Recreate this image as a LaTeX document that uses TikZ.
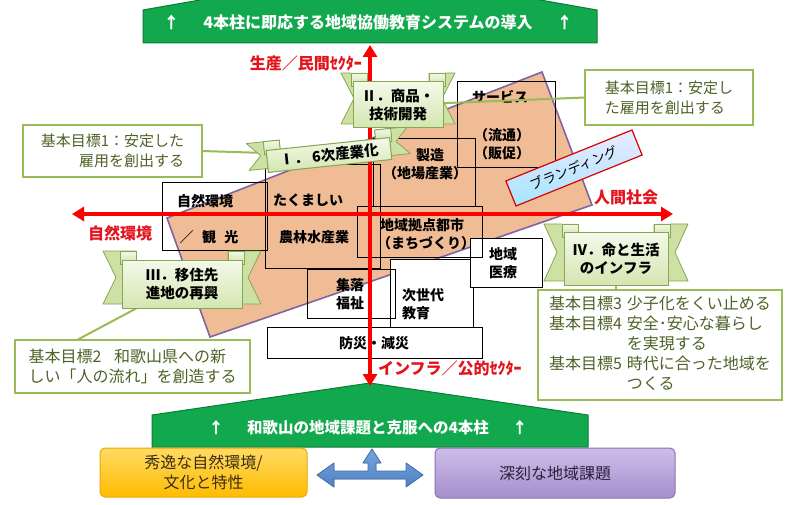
\documentclass[tikz,border=0pt]{standalone}
\usepackage{fontspec}
\setmainfont{Noto Sans CJK JP}
\usetikzlibrary{arrows.meta,calc}
\definecolor{orng}{RGB}{240,188,150}
\definecolor{purp}{RGB}{128,100,162}
\definecolor{axred}{RGB}{250,0,0}
\definecolor{lblred}{RGB}{228,20,30}
\definecolor{cgreen}{RGB}{155,187,89}
\definecolor{olivet}{RGB}{79,98,40}
\definecolor{ribtailc}{RGB}{205,225,165}
\definecolor{ribtop}{RGB}{244,249,233}
\definecolor{ribbot}{RGB}{212,230,178}
\definecolor{ribline}{RGB}{135,168,80}
\definecolor{bgreen}{RGB}{18,168,78}
\definecolor{bgreenline}{RGB}{10,125,55}
\definecolor{blueA}{RGB}{120,165,220}
\definecolor{blueB}{RGB}{80,130,195}
\definecolor{blueline}{RGB}{65,110,175}
\tikzset{
  frame/.style={draw=black, line width=1pt, inner sep=0pt, outer sep=0pt},
  btxt/.style={font=\fontsize{14}{16}\selectfont\bfseries, align=center, inner sep=0pt},
  callout/.style={draw=cgreen, line width=2.5pt, fill=white, inner sep=0pt, outer sep=0pt},
  ctxt/.style={text=olivet, font=\fontsize{15}{20}\selectfont},
  ctxtb/.style={text=olivet, font=\fontsize{16}{20}\selectfont},
  axlbl/.style={text=lblred, font=\fontsize{16}{18}\selectfont\bfseries, inner sep=0pt},
  axis/.style={draw=axred, line width=4pt, {Triangle[length=12pt,width=14pt]}-{Triangle[length=12pt,width=14pt]}},
  conn/.style={draw=cgreen, line width=2pt},
  ribtail/.style={fill=ribtailc, draw=ribline, line width=0.8pt, line join=round},
  ribcurl/.style={top color=ribtop, bottom color=ribtailc, draw=ribline, line width=0.8pt},
  ribbody/.style={top color=ribtop, bottom color=ribbot, draw=ribline, line width=1pt},
  rtxt/.style={font=\fontsize{14.5}{18}\selectfont\bfseries, align=center, inner sep=0pt},
  bantxt/.style={text=white, font=\fontsize{16}{18}\selectfont\bfseries, inner sep=0pt},
}
\newcommand{\boxnode}[6]{%
  \node[frame, #6, minimum width={(#4-#2)*1pt}, minimum height={(#5-#3)*1pt}] (#1) at ({(#2+#4)/2},{(#3+#5)/2}) {};}
\newcommand{\ribbonshape}[6]{%
  \begin{scope}[shift={(#1,#2)},rotate=#3]
    \pgfmathsetmacro{\rbW}{#4}\pgfmathsetmacro{\rbH}{#5}\pgfmathsetmacro{\rbT}{#6}
    \pgfmathsetmacro{\rbTop}{-\rbH-9}\pgfmathsetmacro{\rbBot}{\rbH-4}
    \pgfmathsetmacro{\rbMid}{(\rbTop+\rbBot)/2}
    \filldraw[ribtail] (-\rbW+14,\rbTop) -- (-\rbW-\rbT,\rbTop) -- (-\rbW-\rbT+13,\rbMid) -- (-\rbW-\rbT,\rbBot) -- (-\rbW+14,\rbBot) -- cycle;
    \filldraw[ribtail] (\rbW-14,\rbTop) -- (\rbW+\rbT,\rbTop) -- (\rbW+\rbT-13,\rbMid) -- (\rbW+\rbT,\rbBot) -- (\rbW-14,\rbBot) -- cycle;
    \filldraw[ribcurl] (-\rbW-2,\rbTop) rectangle (-\rbW+14,-\rbH+4);
    \filldraw[ribcurl] (\rbW+2,\rbTop) rectangle (\rbW-14,-\rbH+4);
    \filldraw[ribbody] (-\rbW,-\rbH) rectangle (\rbW,\rbH);
  \end{scope}}
\begin{document}
\begin{tikzpicture}[x=1pt,y=-1pt]
\useasboundingbox (0,0) rectangle (795,505);
\clip (0,0) rectangle (795,505);
\fill[white] (0,0) rectangle (795,505);

% banners
\filldraw[fill=bgreen, draw=bgreenline, line width=1pt] (143,43) -- (143,10) -- (370,-30) -- (597,10) -- (597,43) -- cycle;
\node[bantxt] (toptxt) at (368,22) {↑\hspace{1.5em}4本柱に即応する地域協働教育システムの導入\hspace{1.5em}↑};
\filldraw[fill=bgreen, draw=bgreenline, line width=1pt] (152,447) -- (152,415) -- (370,383) -- (588,415) -- (588,447) -- cycle;
\node[bantxt, font=\fontsize{15.5}{18}\selectfont\bfseries] (bottxt) at (368,428) {↑\hspace{1.5em}和歌山の地域課題と克服への4本柱\hspace{1.5em}↑};

% orange field
\filldraw[fill=orng, draw=purp, line width=1.6pt] (167,218) -- (542,72) -- (592,205) -- (210,337) -- cycle;

% boxes
\boxnode{jis}{390}{259}{473}{327}{fill=white}
\boxnode{iry}{470}{238}{542}{287}{fill=white}
\boxnode{bou}{267}{327}{482}{358}{fill=white}
\boxnode{nat}{162}{183}{267}{250}{}
\boxnode{tak}{265}{165}{380}{268}{}
\boxnode{sei}{373}{139}{475}{207}{}
\boxnode{srv}{457}{82}{555}{168}{}
\boxnode{kyo}{357}{207}{482}{257}{}
\boxnode{shu}{307}{269}{395}{318}{}

\node[btxt] (t1) at (205,201) {自然環境};
\node[btxt] (t2) at (209,237) {／\hspace{0.6em}観\hspace{0.6em}光};
\node[btxt] (t3) at (308,200) {たくましい};
\node[btxt] (t4) at (314,237) {農林水産業};
\node[btxt] (t5) at (430,155) {製造};
\node[btxt] (t6) at (425,173) {（地場産業）};
\node[btxt] (t7) at (500,97) {サービス};
\node[btxt] (t8) at (502,135) {（流通）};
\node[btxt] (t9) at (502,153) {（販促）};
\node[btxt] (t10) at (422,225) {地域拠点都市};
\node[btxt] (t11) at (426,243) {（まちづくり）};
\node[btxt] (t12) at (350,285) {集落};
\node[btxt] (t13) at (350,303) {福祉};
\node[btxt, anchor=west] (t14) at (402,295) {次世代};
\node[btxt, anchor=west] (t15) at (402,313) {教育};
\node[btxt] (t16) at (503,254) {地域};
\node[btxt] (t17) at (503,272) {医療};
\node[btxt] (t18) at (374,343) {防災・減災};

% axes
\coordinate (axL) at (72,214);
\coordinate (axR) at (673,214);
\coordinate (axT) at (370,45);
\coordinate (axB) at (370,386);
\draw[axis] (axL) -- (axR);
\draw[axis] (axB) -- (axT);
\node[axlbl, anchor=east] (lblT) at (362,63) {生産／民間ｾｸﾀｰ};
\node[axlbl, anchor=west] (lblR) at (594,197) {人間社会};
\node[axlbl] (lblL) at (120,233) {自然環境};
\node[axlbl, anchor=west] (lblB) at (378,368) {インフラ／公的ｾｸﾀｰ};

% branding
\node[draw=red!85!black, line width=1.2pt, top color=blue!8, bottom color=blue!30!cyan!35, rotate=22, minimum width=136pt, minimum height=27pt, inner sep=0pt, font=\fontsize{13.5}{16}\selectfont] (brand) at (574,168) {ブランディング};

% callouts
\node[callout, minimum width=179pt, minimum height=52pt] (c1) at (112.5,151) {};
\node[callout, minimum width=168pt, minimum height=55pt] (c2) at (669,97.5) {};
\node[callout, minimum width=235pt, minimum height=53pt] (c3) at (132.5,366.5) {};
\node[callout, minimum width=244pt, minimum height=110pt] (c4) at (660,345) {};

% ribbons (positions)
\coordinate (r1) at (329,155);
\coordinate (r2) at (398,105);
\coordinate (r3) at (182,284);
\coordinate (r4) at (616,259);

\draw[conn] (c1.east) -- (r1);
\draw[conn] (c2.west) -- (r2);
\draw[conn] (c3.north west) ++(62,0) coordinate (c3top) -- (r3);
\draw[conn] (r4) -- (r4 |- c4.north);

\node[ctxt, align=right] (c1t) at (c1) {基本目標1：安定した\\雇用を創出する};
\node[ctxt, align=left] (c2t) at (c2) {基本目標1：安定し\\た雇用を創出する};
\node[ctxtb, align=left] (c3t) at (c3) {基本目標2\hspace{0.8em}和歌山県への新\\しい「人の流れ」を創造する};
\node[ctxtb, align=left] (c4t) at (c4) {\begin{tabular}{@{}l@{\hspace{0.3em}}l@{}}
基本目標3 & 少子化をくい止める\\
基本目標4 & 安全･安心な暮らし\\
 & を実現する\\
基本目標5 & 時代に合った地域を\\
 & つくる
\end{tabular}};

\ribbonshape{329}{155}{6}{62}{11}{19}
\node[rtxt, rotate=6] (rb1) at (r1) {Ⅰ．\hspace{0.25em}6次産業化};
\ribbonshape{398}{105}{0}{45}{23}{12}
\node[rtxt] (rb2) at (r2) {Ⅱ．商品・\\技術開発};
\ribbonshape{182}{284}{0}{60}{24}{19}
\node[rtxt] (rb3) at (r3) {Ⅲ．移住先\\進地の再興};
\ribbonshape{616}{259}{0}{52}{26}{20}
\node[rtxt] (rb4) at (r4) {Ⅳ．命と生活\\のインフラ};

% bottom boxes
\node[rounded corners=5pt, top color={rgb,255:red,255;green,218;blue,100}, bottom color={rgb,255:red,255;green,188;blue,0}, draw={rgb,255:red,235;green,170;blue,0}, line width=1pt, minimum width=207pt, minimum height=49pt, align=center, font=\fontsize{16}{20}\selectfont, text={rgb,255:red,60;green,45;blue,20}] (yel) at (203.5,472.5) {秀逸な自然環境/\\文化と特性};
\node[rounded corners=5pt, top color={rgb,255:red,205;green,190;blue,232}, bottom color={rgb,255:red,165;green,142;blue,205}, draw={rgb,255:red,140;green,115;blue,180}, line width=1pt, minimum width=240pt, minimum height=50pt, font=\fontsize{16}{20}\selectfont, text={rgb,255:red,45;green,30;blue,60}] (pur) at (555,473) {深刻な地域課題};

% blue T arrow
\filldraw[top color=blueA, bottom color=blueB, draw=blueline, line width=0.8pt, line join=round]
 (317,475) -- (334,463) -- (334,471) -- (368,471) -- (368,463) -- (363,463) -- (372,449) -- (381,463) -- (376,463) -- (376,471) -- (406,471) -- (406,463) -- (423,475) -- (406,487) -- (406,479) -- (334,479) -- (334,487) -- cycle;
\end{tikzpicture}
\end{document}
